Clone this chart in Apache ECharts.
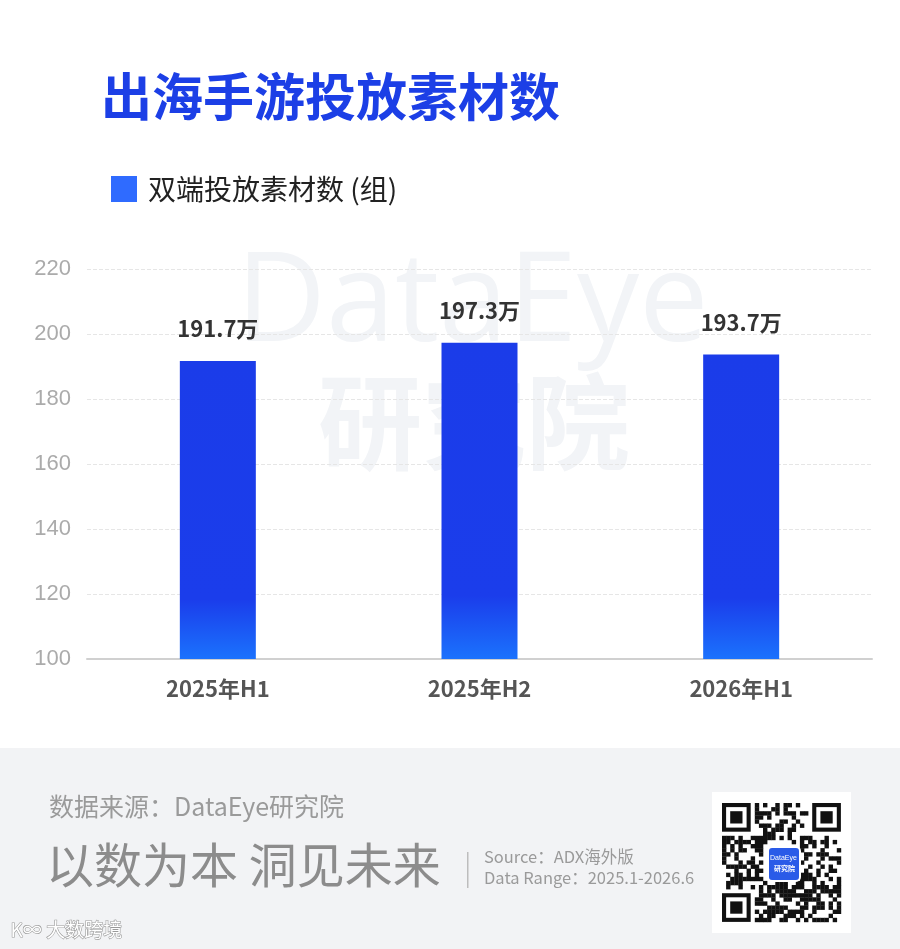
<!DOCTYPE html>
<html><head><meta charset="utf-8">
<script src="https://cdn.jsdelivr.net/npm/echarts@6/dist/echarts.min.js"></script>
<style>html,body{margin:0;padding:0;background:#fff}#c{width:900px;height:949px}</style>
</head><body><div id="c"></div>
<script>
const categories = ['2025年H1', '2025年H2', '2026年H1'];
const seriesName = '双端投放素材数 (组)';
const values = [191.7, 197.3, 193.7];
const yTicks = [100, 120, 140, 160, 180, 200, 220];

const FONT = '"Noto Sans CJK SC","Noto Sans",sans-serif';
const chart = echarts.init(document.getElementById('c'), null, {renderer: 'canvas'});

// deterministic decorative QR-like pattern
function qrElements(x0, y0, n, m) {
  const els = [];
  const inFinder = (i, j) => (i < 8 && j < 8) || (i < 8 && j >= n - 8) || (i >= n - 8 && j < 8);
  const inLogo = (i, j) => i >= 10 && i <= 18 && j >= 10 && j <= 18;
  for (let i = 0; i < n; i++) for (let j = 0; j < n; j++) {
    if (inFinder(i, j) || inLogo(i, j)) continue;
    const h = ((i * 73856093) ^ (j * 19349663) ^ (i * j * 83492791)) >>> 0;
    if (h % 100 < 52) els.push({type: 'rect', shape: {x: x0 + j * m, y: y0 + i * m, width: m + 0.3, height: m + 0.3}, style: {fill: '#111'}});
  }
  const finder = (fx, fy) => {
    els.push({type: 'rect', shape: {x: fx, y: fy, width: 7 * m, height: 7 * m}, style: {fill: '#111'}});
    els.push({type: 'rect', shape: {x: fx + m, y: fy + m, width: 5 * m, height: 5 * m}, style: {fill: '#fff'}});
    els.push({type: 'rect', shape: {x: fx + 2 * m, y: fy + 2 * m, width: 3 * m, height: 3 * m}, style: {fill: '#111'}});
  };
  finder(x0, y0); finder(x0 + (n - 7) * m, y0); finder(x0, y0 + (n - 7) * m);
  return els;
}

const qrN = 29, qrM = 4.1, qrX = 722, qrY = 803;
const graphics = [
  // watermark
  {type: 'text', z: -10, left: 236, top: 244, style: {text: 'DataEye', font: '500 124px "Open Sans",sans-serif', fill: '#f2f4f7'}},
  {type: 'text', z: -10, left: 318, top: 370, style: {text: '研究院', font: '700 104px ' + FONT, fill: '#f2f4f7'}},
  // footer bg
  {type: 'rect', z: -5, shape: {x: 0, y: 748, width: 900, height: 201}, style: {fill: '#f2f3f5'}},
  {type: 'text', left: 49, top: 794, style: {text: '数据来源：DataEye研究院', font: '400 25px ' + FONT, fill: '#9a9a9a'}},
  {type: 'text', left: 46, top: 841, style: {text: '以数为本 洞见未来', font: '400 48px ' + FONT, fill: '#8c8c8c'}},
  {type: 'rect', shape: {x: 467, y: 852, width: 1.5, height: 36}, style: {fill: '#bdbdbd'}},
  {type: 'text', left: 484, top: 848, style: {text: 'Source：ADX海外版', font: '400 16.5px ' + FONT, fill: '#9a9a9a'}},
  {type: 'text', left: 484, top: 869, style: {text: 'Data Range：2025.1-2026.6', font: '400 16.5px ' + FONT, fill: '#9a9a9a'}},
  {type: 'rect', shape: {x: 712, y: 792, width: 139, height: 141}, style: {fill: '#ffffff'}},
  {type: 'group', children: qrElements(qrX, qrY, qrN, qrM)},
  {type: 'rect', shape: {x: 768, y: 847, width: 32, height: 34, r: 4}, style: {fill: '#2a5be8', stroke: '#fff', lineWidth: 2}},
  {type: 'text', left: 770, top: 855, style: {text: 'DataEye', font: '400 7px sans-serif', fill: '#fff'}},
  {type: 'text', left: 774, top: 865, style: {text: '研究院', font: '700 7px ' + FONT, fill: '#fff'}},
  {type: 'text', left: 10, top: 920, style: {text: 'K∞ 大数跨境', font: '400 19px ' + FONT, fill: '#ffffff', stroke: '#9a9a9a', lineWidth: 1.2}}
];

chart.setOption({
  backgroundColor: '#ffffff',
  animation: false,
  title: {
    text: '出海手游投放素材数', left: 96, top: 66,
    textStyle: {fontFamily: FONT, fontSize: 51, fontWeight: 'bold', color: '#1c3fe6'}
  },
  legend: {
    data: [seriesName], left: 106, top: 170, icon: 'rect', itemWidth: 26, itemHeight: 26, itemGap: 10,
    itemStyle: {color: '#2f6bff'},
    textStyle: {fontFamily: FONT, fontSize: 28, color: '#222', padding: [0, 0, 0, 6]}
  },
  grid: {left: 87, right: 28, top: 269, bottom: 290},
  xAxis: {
    type: 'category', data: categories,
    axisLine: {lineStyle: {color: '#d0d0d0', width: 2}},
    axisTick: {show: false},
    axisLabel: {margin: 19, fontFamily: FONT, fontSize: 22, fontWeight: 'bold', color: '#555'}
  },
  yAxis: {
    type: 'value', min: yTicks[0], max: yTicks[yTicks.length - 1], interval: 20,
    axisLine: {show: false}, axisTick: {show: false},
    axisLabel: {margin: 16, fontFamily: '"Liberation Sans",Arial,sans-serif', fontSize: 22, color: '#ababab'},
    splitLine: {lineStyle: {color: '#e6e6e6', type: 'dashed', width: 1}}
  },
  series: [{
    name: seriesName, type: 'bar', data: values, barWidth: 76,
    itemStyle: {
      color: new echarts.graphic.LinearGradient(0, 0, 0, 1, [
        {offset: 0, color: '#1b3ce9'}, {offset: 0.8, color: '#1b3deb'}, {offset: 1, color: '#1b72fd'}
      ])
    },
    label: {
      show: true, position: 'top', distance: 21,
      formatter: p => p.value + '万',
      fontFamily: FONT, fontSize: 22, fontWeight: 'bold', color: '#333'
    }
  }],
  graphic: graphics
});
</script></body></html>
